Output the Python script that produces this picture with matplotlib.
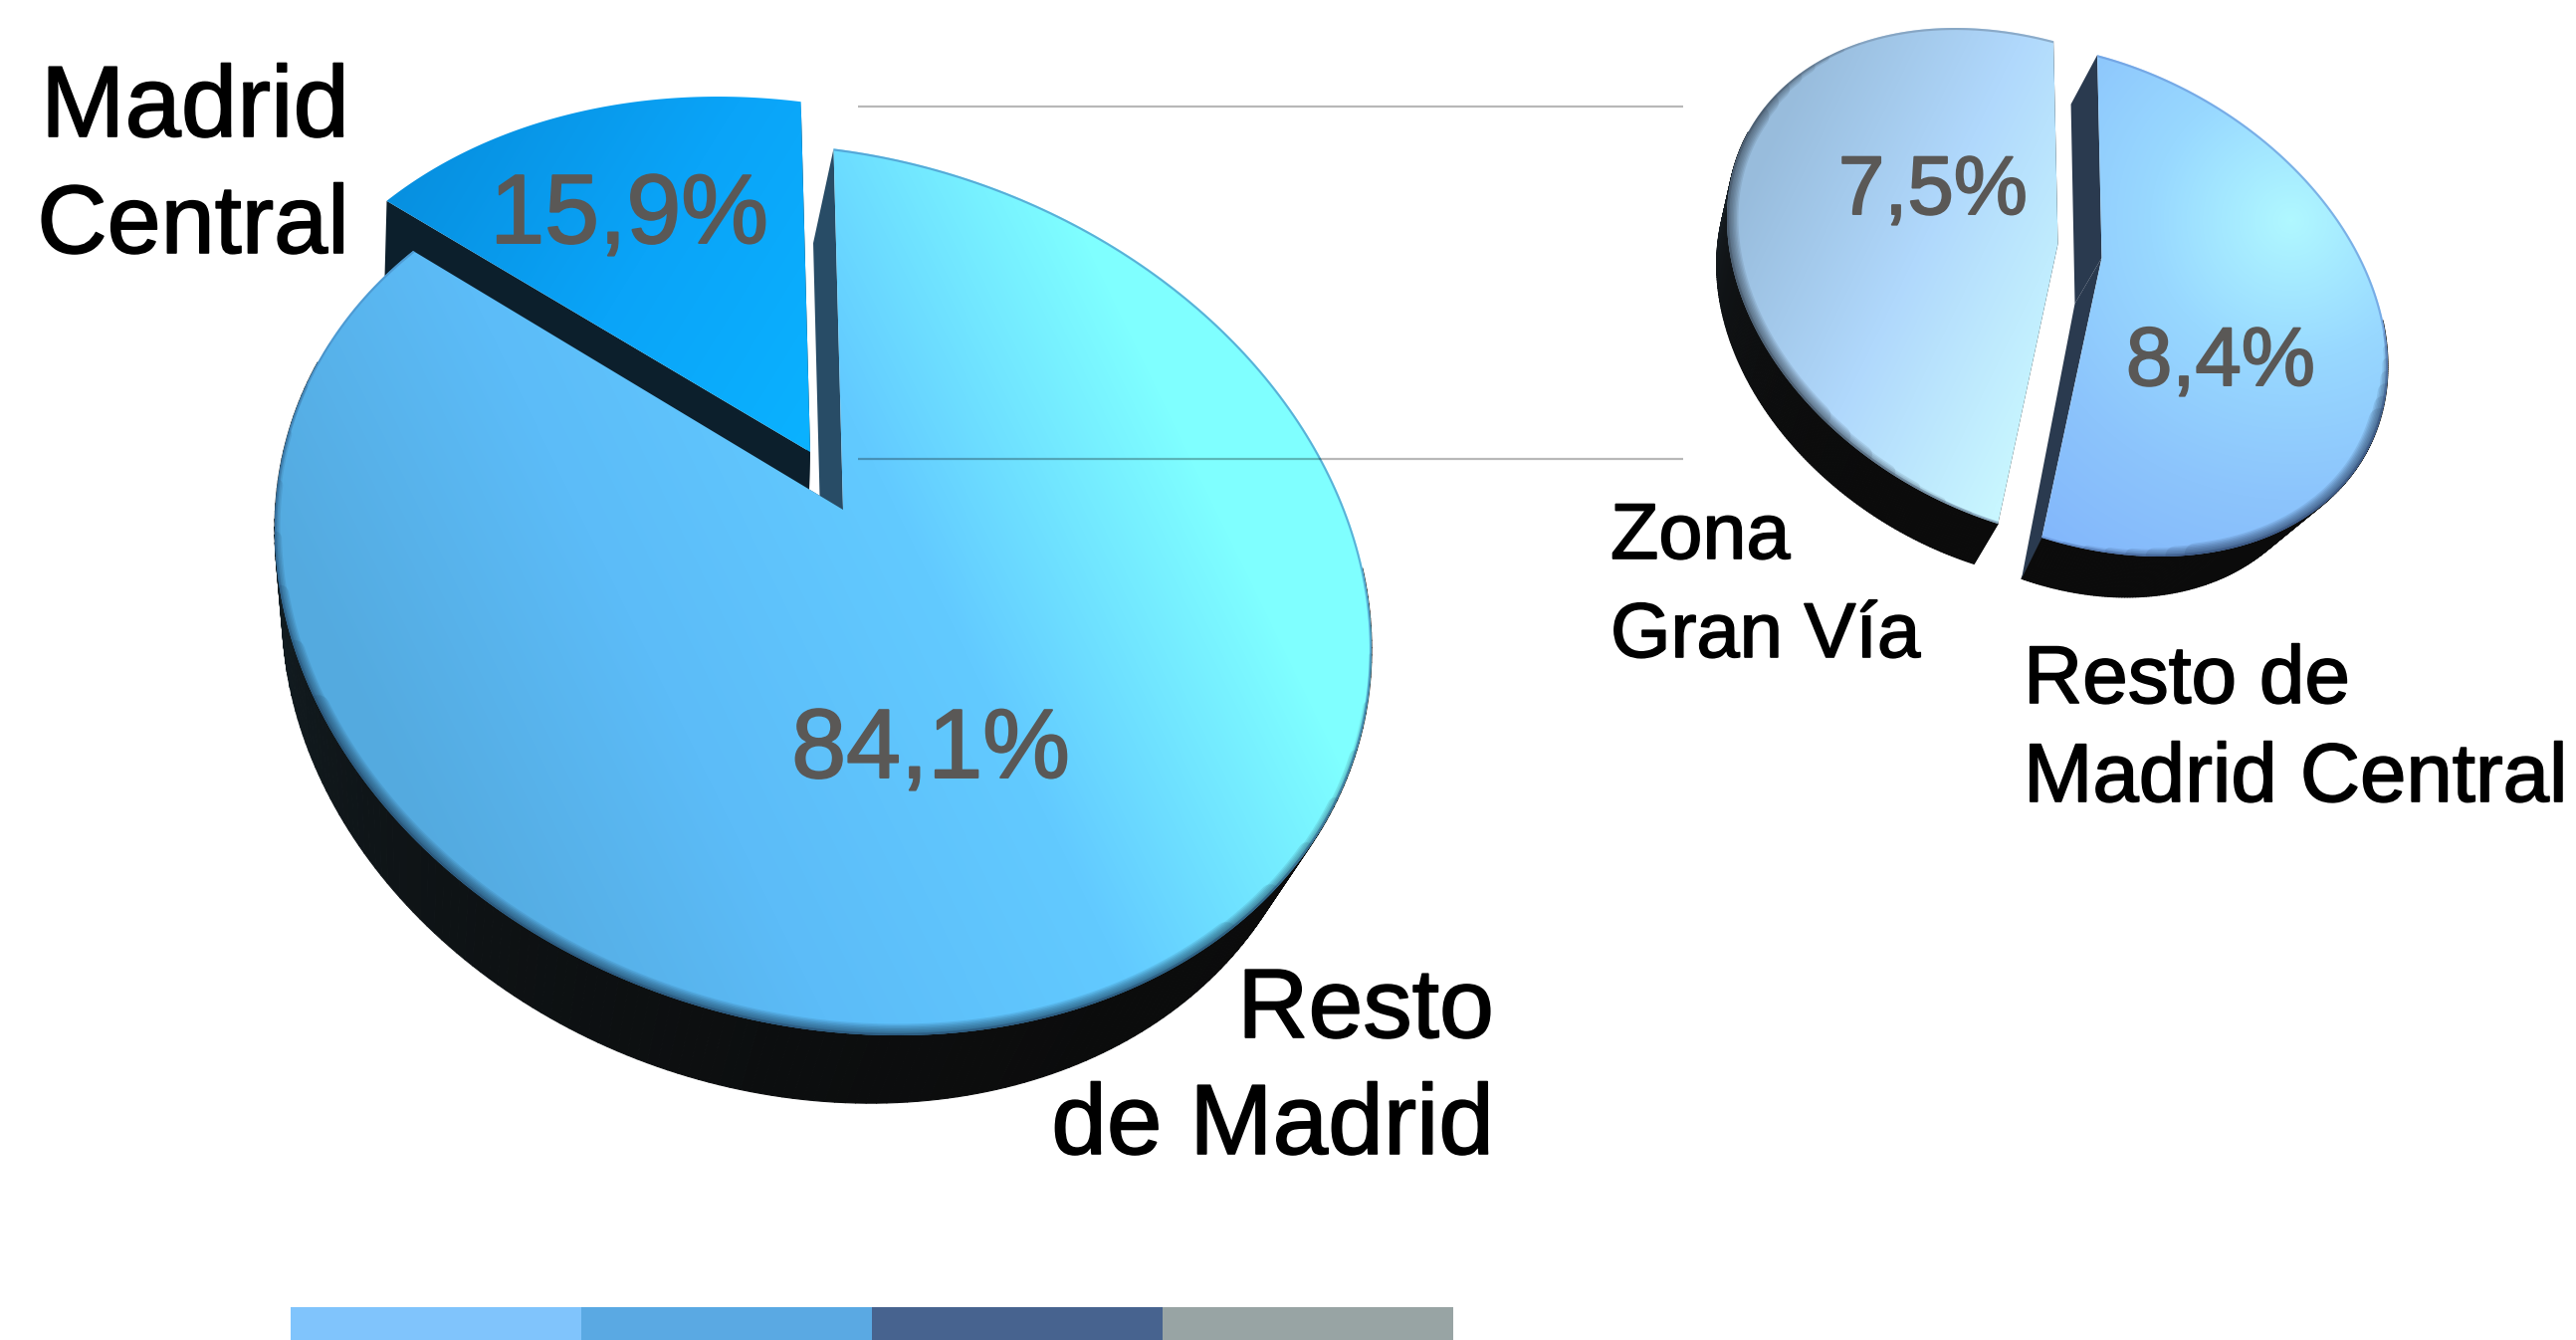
import numpy as np
import matplotlib
matplotlib.use("Agg")
import matplotlib.pyplot as plt
import matplotlib.patheffects as pe
from matplotlib.collections import PolyCollection
from matplotlib.colors import LinearSegmentedColormap, to_rgb
from matplotlib.patches import PathPatch, Rectangle
from matplotlib.path import Path

plt.rcParams['font.family'] = ['Liberation Sans', 'DejaVu Sans']

W, H = 2588, 1346

# data
main_shares = [84.1, 15.9]
main_names = ["Resto\nde Madrid", "Madrid\nCentral"]
zoom_shares = [8.4, 7.5]
zoom_names = ["Resto de\nMadrid Central", "Zona\nGran Vía"]
legend_colors = ["#80c4fc", "#5aa9e3", "#47638f", "#98a4a4"]

# ellipse of the top face: centre, half width, half height, tilt, pie centre
main_pie = dict(c=(827, 592), sx=551, sy=448, rho=0.135, apex=(847, 512), start=-91)
zoom_pie = dict(c=(2067, 293.5), sx=310, sy=258.5, rho=0.26, apex=(2089.5, 252), start=-90.6)

main_styles = [
    dict(off=(0, 0), scale=(1, 1), wall=(-24, 84), wall_scale=(0.945, 0.97), cut_wall=(-21, 84),
         wall_from=0, wall_to=192, cut="#284c66", wall_cols=("#0b0b0b", "#16262e"),
         grad=((350, 700), (1130, 320)), radial=False,
         cols=["#54aadf", "#5cbcf8", "#62caff", "#7fffff"],
         rim="#17324a", rim_from=5, rim_to=195, edge="#4a90c8"),
    dict(off=(-33, -58), scale=(0.985, 0.97), wall=(-2, 75), wall_scale=(1, 1), cut_wall=(-2, 75),
         wall_from=0, wall_to=0, cut="#0c1f2c", wall_cols=("#0c1f2c", "#0c1f2c"),
         grad=((400, 180), (820, 440)), radial=False, cols=["#0790e0", "#0aa4f8", "#0ab2ff"],
         rim=None, rim_from=0, rim_to=0, edge=None),
]
zoom_styles = [
    dict(off=(22, 7), scale=(1, 1), wall=(-27, 46), wall_scale=(0.89, 0.983), cut_wall=(-27, 46),
         wall_from=0, wall_to=99.6, cut="#2a3a4f", wall_cols=("#0b0b0b", "#0b0b0b"),
         grad=((2300, 220), (2300, 640)), radial=True,
         cols=["#b0f8ff", "#98d8ff", "#8cc4fc", "#82b6fb"],
         rim="#1c2c4a", rim_from=0, rim_to=110, edge="#6a98dc"),
    dict(off=(-22, -7), scale=(1, 1), wall=(-27, 46), wall_scale=(0.95, 0.98), cut_wall=(-27, 46),
         wall_from=99.6, wall_to=190, cut="#0b0b0b", wall_cols=("#0b0b0b", "#1c262e"),
         grad=((1760, 170), (2090, 330)), radial=False, cols=["#98bcdc", "#b0d8fc", "#c8f6ff"],
         rim="#2a3440", rim_from=95, rim_to=225, edge="#7c98b4"),
]

fig = plt.figure(figsize=(W / 100, H / 100), dpi=100)
ax = fig.add_axes([0, 0, 1, 1])


def pie_point(pie, ang):
    # point of the outline for an angle around the pie centre, with perspective
    ang = np.radians(np.asarray(ang, dtype=float))
    wx, wy = np.cos(ang), np.sin(ang)
    cx, cy = pie["c"]
    rho = pie["rho"]
    k = np.sqrt(1 - rho ** 2)
    px = (pie["apex"][0] - cx) / pie["sx"]
    py = ((pie["apex"][1] - cy) / pie["sy"] - rho * px) / k
    n = np.hypot(px, py)
    hx, hy = px / n, py / n
    par = wx * hx + wy * hy
    s = np.sqrt(1 - n ** 2)
    den = 1 + wx * px + wy * py
    ux = ((wx - par * hx) * s + par * hx + px) / den
    uy = ((wy - par * hy) * s + par * hy + py) / den
    return np.column_stack([cx + pie["sx"] * ux, cy + pie["sy"] * (rho * ux + k * uy)])


def move(pts, apex, off, scale):
    return np.asarray(apex) + np.asarray(off) + (pts - np.asarray(apex)) * np.asarray(scale)


def mix(c1, c2, t):
    return tuple((1 - t) * a + t * b for a, b in zip(to_rgb(c1), to_rgb(c2)))


def gradient(path, p0, p1, cols, z, radial=False):
    xs, ys = np.meshgrid(np.arange(0, W, 4), np.arange(0, H, 4))
    dx, dy = p1[0] - p0[0], p1[1] - p0[1]
    if radial:
        t = np.hypot(xs - p0[0], ys - p0[1]) / np.hypot(dx, dy)
    else:
        t = ((xs - p0[0]) * dx + (ys - p0[1]) * dy) / (dx ** 2 + dy ** 2)
    cmap = LinearSegmentedColormap.from_list("g", cols)
    im = ax.imshow(np.clip(t, 0, 1), cmap=cmap, vmin=0, vmax=1, extent=(0, W, H, 0),
                   interpolation="bilinear", zorder=z, aspect="auto")
    patch = PathPatch(path, fc="none", ec="none", transform=ax.transData)
    ax.add_patch(patch)
    im.set_clip_path(patch)
    return patch


def draw_pie(pie, shares, styles, z):
    sweeps = np.array(shares) / sum(shares) * 360
    a0 = pie["start"]
    for sweep, st in zip(sweeps, styles):
        a1 = a0 + sweep
        apex = np.array(pie["apex"], dtype=float)
        sl_apex = apex + st["off"]
        ang = np.linspace(a0, a1, 300)
        arc = move(pie_point(pie, ang), apex, st["off"], st["scale"])
        low = move(arc, sl_apex, st["cut_wall"], st["wall_scale"])
        low_apex = sl_apex + st["cut_wall"]

        # side wall
        if st["wall_to"] > st["wall_from"]:
            aw = np.linspace(st["wall_from"], st["wall_to"], 200)
            top = move(pie_point(pie, aw), apex, st["off"], st["scale"])
            bot = move(top, sl_apex, st["wall"], st["wall_scale"])
            quads = [[top[i], top[i + 1], bot[i + 1], bot[i]] for i in range(len(aw) - 1)]
            fc = [mix(st["wall_cols"][0], st["wall_cols"][1], (i / len(quads)) ** 3) for i in range(len(quads))]
            ax.add_collection(PolyCollection(quads, facecolors=fc, edgecolors=fc, linewidths=0.8, zorder=z))

        # cut faces
        for k in (0, -1):
            ax.fill([arc[k][0], low[k][0], low_apex[0], sl_apex[0]],
                    [arc[k][1], low[k][1], low_apex[1], sl_apex[1]],
                    color=st["cut"], lw=0, zorder=z + 0.1)

        # top face
        verts = np.vstack([sl_apex, arc, sl_apex])
        path = Path(verts, [Path.MOVETO] + [Path.LINETO] * (len(arc)) + [Path.CLOSEPOLY])
        patch = gradient(path, st["grad"][0], st["grad"][1], st["cols"], z + 0.2, st["radial"])

        # thin edge all along the arc
        if st["edge"]:
            ln, = ax.plot(arc[:, 0], arc[:, 1], color=st["edge"], lw=3.0, alpha=0.7, zorder=z + 0.25)
            ln.set_clip_path(patch)

        # soft dark rim on the lower edge, thick strokes stop earlier so it tapers off
        if st["rim"]:
            widths = np.arange(2, 26, 3)
            lo, hi = max(st["rim_from"], a0), min(st["rim_to"], a1)
            for j, lw in enumerate(widths):
                step = (hi - lo) * 0.035 * j
                ar = np.linspace(lo + step, hi - step, 200)
                rim = move(pie_point(pie, ar), apex, st["off"], st["scale"])
                ln, = ax.plot(rim[:, 0], rim[:, 1], color=st["rim"], lw=lw * 0.72, alpha=0.11,
                              solid_capstyle="round", zorder=z + 0.3)
                ln.set_clip_path(patch)
        a0 = a1


draw_pie(main_pie, main_shares, main_styles, 2)
draw_pie(zoom_pie, zoom_shares, zoom_styles, 2)

# connector lines
for y in [107, 461]:
    ax.plot([862, 1691], [y, y], color="black", alpha=0.28, lw=1.6, zorder=5, solid_capstyle="butt")


def pct(v):
    return f"{v:.1f}%".replace(".", ",")


def label(x, y, txt, col, size, ha, width=1.4):
    ax.text(x, y, txt, color=col, fontsize=size, ha=ha, va="baseline", zorder=6,
            path_effects=[pe.withStroke(linewidth=width, foreground=col)])


# percent labels
grey = "#5a5856"
label(935, 781, pct(main_shares[0]), grey, 71, "center")
label(632, 244, pct(main_shares[1]), grey, 71, "center")
label(2231, 387, pct(zoom_shares[0]), grey, 60, "center")
label(1942, 215, pct(zoom_shares[1]), grey, 60, "center")


# names, one text per line so the baselines stay put
def name(txt, x, ys, sizes, ha):
    for line, y, size in zip(txt.split("\n"), ys, sizes):
        label(x, y, line, "black", size, ha, 1.2)


name(main_names[1], 351, [137, 254], [73, 70], "right")
name(main_names[0], 1501, [1042, 1159], [71, 72], "right")
name(zoom_names[1], 1618, [561, 660], [57, 56], "left")
name(zoom_names[0], 2033, [706, 805], [59, 60], "left")

# colour strip, no labels on it
for i, col in enumerate(legend_colors):
    ax.add_patch(Rectangle((292 + i * 292, 1313), 292, 33, fc=col, ec="none", zorder=3))

ax.set_xlim(0, W)
ax.set_ylim(H, 0)
ax.axis("off")
fig.savefig("out.png", dpi=100, facecolor="white")
